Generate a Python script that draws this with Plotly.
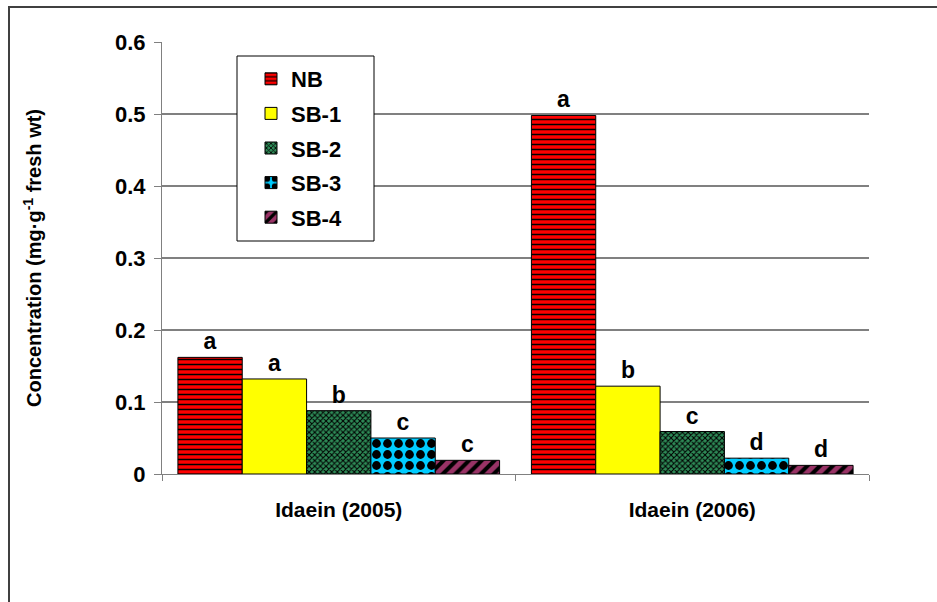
import plotly.graph_objects as go

# Sites / seasons on the category axis
categories = ["Idaein (2005)", "Idaein (2006)"]

# Treatments
series_names = ["NB", "SB-1", "SB-2", "SB-3", "SB-4"]

# Concentration (mg·g-1 fresh wt) for each treatment, per category
nb_values = [0.162, 0.498]
sb1_values = [0.132, 0.122]
sb2_values = [0.088, 0.059]
sb3_values = [0.050, 0.022]
sb4_values = [0.019, 0.012]

# Mean-separation letters placed above the bars
nb_letters = ["a", "a"]
sb1_letters = ["a", "b"]
sb2_letters = ["b", "c"]
sb3_letters = ["c", "d"]
sb4_letters = ["c", "d"]

y_ticks = [0, 0.1, 0.2, 0.3, 0.4, 0.5, 0.6]

FONT = "Liberation Sans, Arial, sans-serif"

series = [
    (series_names[0], nb_values, nb_letters, "#FF0000", dict(shape="-", size=5, solidity=0.3, fgcolor="#000000")),
    (series_names[1], sb1_values, sb1_letters, "#FFFF00", dict(shape="")),
    (series_names[2], sb2_values, sb2_letters, "#2E8B57", dict(shape="x", size=4, solidity=0.45, fgcolor="#000000")),
    (series_names[3], sb3_values, sb3_letters, "#00CCFF", dict(shape=".", size=11, solidity=0.5, fgcolor="#000000")),
    (series_names[4], sb4_values, sb4_letters, "#993366", dict(shape="/", size=9, solidity=0.45, fgcolor="#000000")),
]

fig = go.Figure()
for name, vals, letters, color, pattern in series:
    pat = dict(pattern)
    pat["bgcolor"] = color
    pat["fillmode"] = "replace"
    fig.add_trace(go.Bar(
        name=name,
        x=categories,
        y=vals,
        text=letters,
        textposition="outside",
        textfont=dict(family=FONT, size=23, color="#000000", weight="bold"),
        constraintext="none",
        cliponaxis=False,
        legendgroup=name,
        marker=dict(color=color, line=dict(color="#000000", width=1), pattern=pat),
    ))

W, H = 937, 602
ML, MR, MT, MB = 162, 68, 42, 128
pw, ph = W - ML - MR, H - MT - MB

def px_x(x):
    return (x - ML) / pw

def px_y(y):
    return (H - MB - y) / ph

fig.update_layout(
    width=W,
    height=H,
    margin=dict(l=ML, r=MR, t=MT, b=MB, pad=0),
    paper_bgcolor="#FFFFFF",
    plot_bgcolor="#FFFFFF",
    barmode="group",
    bargap=0.09,
    bargroupgap=0,
    font=dict(family=FONT, color="#000000"),
    showlegend=True,
    legend=dict(
        x=px_x(251), y=px_y(58), xanchor="left", yanchor="top",
        bgcolor="rgba(0,0,0,0)", borderwidth=0,
        font=dict(family=FONT, size=22, color="#000000", weight="bold"),
        tracegroupgap=3,
        itemwidth=30,
    ),
    xaxis=dict(
        showline=True, linecolor="#808080", linewidth=1,
        ticks="outside", tickson="boundaries", ticklen=6, tickcolor="#808080",
        tickfont=dict(family=FONT, size=21, color="#000000", weight="bold"),
        ticklabelstandoff=17,
        showgrid=False, zeroline=False,
    ),
    yaxis=dict(
        range=[0, 0.6], tickvals=y_ticks, ticktext=[f"{v:g}" for v in y_ticks],
        showline=True, linecolor="#808080", linewidth=1,
        ticks="outside", ticklen=7, tickcolor="#808080",
        tickfont=dict(family=FONT, size=22, color="#000000", weight="bold"),
        ticklabelstandoff=4,
        showgrid=True, gridcolor="#808080", gridwidth=1.5,
        zeroline=False,
    ),
    annotations=[
        dict(text="Concentration (mg·g<sup>-1</sup> fresh wt)",
             xref="paper", yref="paper", x=px_x(32), y=0.5,
             xanchor="center", yanchor="middle", textangle=-90, showarrow=False,
             font=dict(family=FONT, size=20, color="#000000", weight="bold")),
    ],
    shapes=[
        # outer chart frame
        dict(type="rect", xref="paper", yref="paper",
             x0=px_x(9), x1=px_x(950), y0=px_y(615), y1=px_y(7),
             line=dict(color="#404040", width=2), fillcolor="rgba(0,0,0,0)", layer="below"),
        # legend box
        dict(type="rect", xref="paper", yref="paper",
             x0=px_x(237), x1=px_x(374), y0=px_y(241), y1=px_y(56),
             line=dict(color="#000000", width=1), fillcolor="#FFFFFF", layer="above"),
    ],
)

fig.write_html("out.html")
